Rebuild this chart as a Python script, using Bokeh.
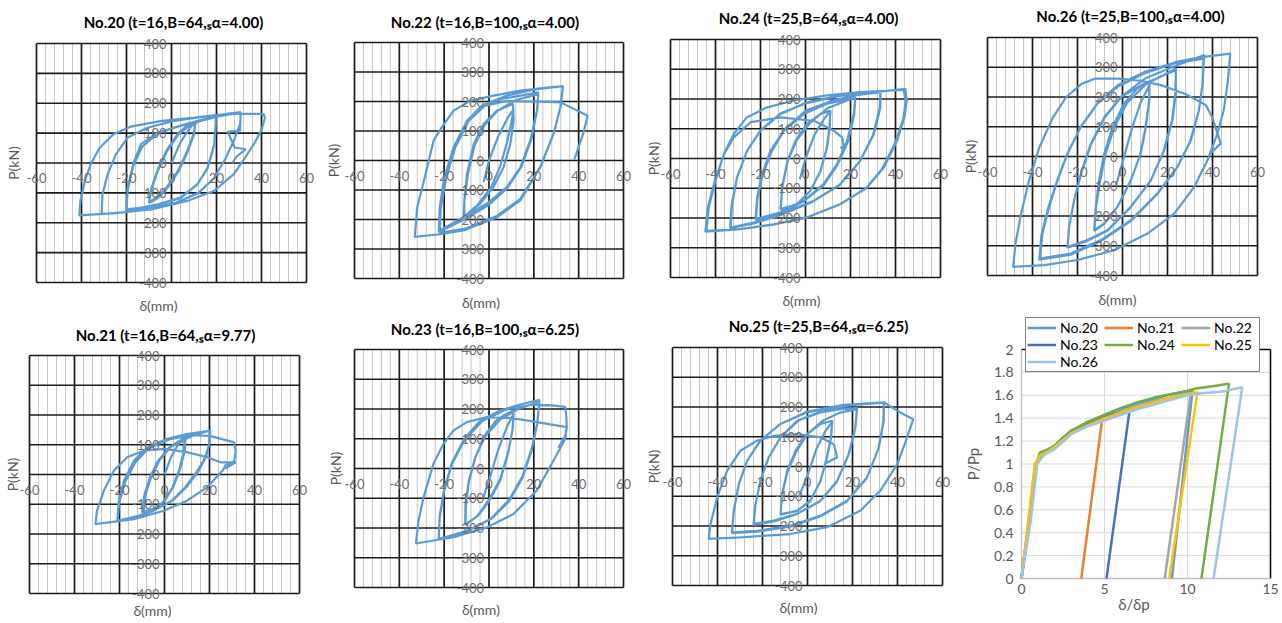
import math
from bokeh.plotting import figure
from bokeh.models import Label, Range1d, Legend, LegendItem
from bokeh.layouts import row, column
from bokeh.embed import file_html
from bokeh.resources import INLINE

# ---------------- data ----------------
X_TICKS = [-60, -40, -20, 0, 20, 40, 60]
Y_TICKS = [-400, -300, -200, -100, 0, 100, 200, 300, 400]
MINOR_X = [v for v in range(-60, 61, 4) if v % 20 != 0]

T20 = "No.20 (t=16,B=64,\u209b\u03b1=4.00)"
T22 = "No.22 (t=16,B=100,\u209b\u03b1=4.00)"
T24 = "No.24 (t=25,B=64,\u209b\u03b1=4.00)"
T26 = "No.26 (t=25,B=100,\u209b\u03b1=4.00)"
T21 = "No.21 (t=16,B=64,\u209b\u03b1=9.77)"
T23 = "No.23 (t=16,B=100,\u209b\u03b1=6.25)"
T25 = "No.25 (t=25,B=64,\u209b\u03b1=6.25)"

# (delta mm, P kN) hysteresis paths
N20 = [(0,0),(4,70),(8,115),(10.5,137),
       (10,100),(7,40),(3,-25),(-2,-80),(-6,-112),(-10,-132),
       (-9,-85),(-6,-20),(-2,45),(3,100),(7,125),(10.7,139),
       (10,95),(7,35),(3,-30),(-2,-85),(-6,-117),(-10,-134),
       (-9,-90),(-6,-25),(-2,40),(3,95),(8,125),(14,145),(19.7,156),
       (19.5,118),(19,63),(16,-16),(11.5,-71),(4,-116),(-6,-138),(-14,-150),(-20,-155),
       (-19.5,-83),(-17,-4),(-13.6,63),(-6.2,102),(4,124),(13,141),(19.7,154),
       (19.6,115),(19,60),(16,-18),(11.5,-72),(4,-118),(-6,-140),(-20,-157),
       (-19.5,-90),(-17,-10),(-13,55),(-6,100),(4,125),(15,148),(24,160),(30.8,169),
       (30.5,130),(28,80),(24,15),(19,-50),(12,-100),(2,-133),(-12,-155),(-22,-165),(-31,-171),
       (-30.7,-105),(-28.4,-38),(-24.7,29),(-19.5,85),(-10.7,118),(1,141),(16,157),(30,165),(41,164),
       (41.5,150),(40,110),(36.6,63),(32,10),(27.7,-37),(19,-93),(7,-127),(-9,-155),(-25,-168),(-41,-175),
       (-40.5,-128),(-38.5,-60),(-36,-5),(-32,50),(-26,95),(-18,122),(-5,140),(10,152),(22,162),(30.7,170),
       (30.5,108),(25,105),(28,52),(33,46),(29,22),(27,0)]

N22 = [(-2.4,-73),(0,0),(4,80),(8,140),(11,175),
       (10,130),(8,60),(5,-20),(1,-90),(-5,-150),(-11,-190),
       (-11,-135),(-9.8,-45),(-6.8,56),(-2.4,124),(3.6,169),(10.7,192),
       (11,135),(9.5,56),(6.5,-23),(2,-90),(-3.9,-146),(-11.3,-192),
       (-11,-140),(-9.5,-50),(-6.5,50),(-2,120),(4,170),(12,205),(22,225),
       (21.4,169),(18.4,68),(14,-23),(8,-90),(-0.9,-146),(-11.3,-192),(-22,-237),
       (-21.7,-158),(-19.5,-56),(-15.8,45),(-9.8,135),(-3.9,180),(5,208),(14,220),(22,231),
       (21.6,175),(19,75),(14.5,-20),(8,-95),(0,-150),(-11,-200),(-22.4,-242),
       (-22,-160),(-20,-60),(-16,40),(-10,130),(-2,190),(8,220),(20,240),(33,252),
       (31.8,180),(28.8,90),(22.9,-23),(14,-135),(3.6,-192),(-11.3,-237),(-22,-250),(-33.1,-259),
       (-32,-158),(-29,-68),(-24.7,68),(-21,113),(-15.8,169),(-8.3,203),(2,220),(14,237),(28.8,250),(33,250),
       (32,185),(29,95),(23,-20),(14,-130),(3,-190),(-11,-232),(-22,-245),
       (-21.5,-160),(-19,-55),(-15,45),(-9,135),(-2,185),(8,202),(20,200),(32,197),(44,152),(42,90),(38,2)]

N24 = [(-2.5,-70),(0,0),(4,80),(8,130),(11,160),
       (10.8,105),(9.6,37),(6.7,-41),(2.2,-108),(-3.7,-153),(-11.1,-170),
       (-10.4,-97),(-8,-7),(-4.4,60),(0.7,116),(6.7,150),(11.1,161),
       (10.6,100),(9.3,30),(6.5,-45),(2,-110),(-4,-155),(-11,-172),
       (-10.4,-100),(-8,-10),(-4,60),(2,120),(10,170),(22.2,206),
       (21.5,150),(18.5,60),(14,-19),(8,-86),(-0.7,-142),(-11,-181),(-22.2,-204),
       (-21.5,-131),(-19.3,-52),(-15.6,26),(-9.6,94),(-0.7,150),(9.6,184),(22.2,204),
       (21.6,145),(18.8,55),(14,-25),(8,-90),(-1,-145),(-11,-185),(-22,-207),
       (-21.4,-135),(-19,-55),(-15,25),(-9,100),(0,160),(12,195),(22,212),(33.3,223),
       (33.3,172),(30.4,82),(24.4,-7),(15.6,-86),(3.7,-142),(-11,-187),(-23,-215),(-33.3,-232),
       (-32.6,-153),(-30.4,-63),(-26,26),(-20,94),(-11,150),(0.7,189),(15.6,212),(33.3,223),
       (33,170),(30,78),(24,-12),(15,-90),(3,-146),(-11,-190),(-23,-218),(-33.5,-234),
       (-32.8,-155),(-30.5,-65),(-26,25),(-20,95),(-11,152),(0,185),(15,210),(30,222),(44.4,234),
       (45,195),(44,139),(40.7,60),(34.8,-30),(27.4,-97),(15.6,-153),(0.7,-198),(-14,-221),(-29,-237),(-44,-243),
       (-43,-164),(-40,-75),(-36.3,15),(-31.9,82),(-26,139),(-17,172),(-5.2,195),(9.6,212),(24.4,223),(43.7,231),
       (44.5,190),(43.5,135),(40,55),(34,-35),(27,-100),(15,-155),(0,-200),(-15,-223),(-30,-238),(-44.5,-246),
       (-43.5,-168),(-40.5,-80),(-36.5,10),(-32,70),(-24.4,122),(-11,138),(4,126),(12.6,93),(16.3,71),(17,40),(15.5,35)]

N26 = [(-3,-100),(0,-20),(4,90),(8,180),(12,240),
       (11.9,189),(10.4,100),(8.1,10),(3.7,-80),(-2.2,-169),(-8.1,-225),(-12.6,-248),
       (-11.9,-169),(-10.4,-80),(-8.1,10),(-4.4,100),(0.7,178),(6.7,229),(11.9,251),
       (11.8,185),(10.2,95),(7.8,5),(3.5,-85),(-2.5,-172),(-8.3,-228),(-12.5,-250),
       (-11.8,-172),(-10,-85),(-7.5,10),(-3.5,100),(2,180),(10,240),(17,270),(23.7,290),
       (23.7,212),(22.2,122),(18.5,21),(12.6,-80),(3.7,-169),(-6.7,-248),(-15.6,-281),(-24.4,-304),
       (-23.7,-236),(-21.5,-147),(-18.5,-57),(-14,44),(-8,133),(-0.7,200),(9.6,245),(17,268),(23.7,296),
       (23.5,215),(22,120),(18.3,18),(12.4,-83),(3.5,-172),(-6.8,-250),(-15.7,-284),(-24.5,-307),
       (-23.8,-240),(-21.6,-150),(-18.5,-60),(-14,40),(-8,130),(0,205),(10,262),(22,300),(36.3,341),
       (35.6,245),(34,156),(30.4,55),(24.4,-35),(15.6,-124),(3.7,-214),(-9.6,-281),(-23,-326),(-36.7,-343),
       (-35.6,-259),(-32.6,-169),(-28.9,-80),(-24.4,10),(-18.5,100),(-11.1,178),(-2.2,234),(9.6,279),(23,313),(36,329),
       (35.5,240),(33.8,150),(30,50),(24,-40),(15.3,-128),(3.5,-218),(-9.8,-285),(-23,-330),(-37,-347),
       (-36,-262),(-33,-172),(-29,-80),(-24.5,10),(-18.5,100),(-11,180),(-2,240),(10,285),(25,320),(36,335),(47.9,346),
       (46.7,245),(45,156),(42.2,77),(37.8,-12),(31.9,-102),(23,-192),(11.1,-259),(-3.7,-315),(-20,-348),(-34.8,-365),(-48.6,-371),
       (-47.5,-290),(-45,-190),(-41.5,-80),(-37,30),(-31,130),(-25,200),(-18,245),(-12,262),(-2,262),(8,255),(17,240),
       (28,210),(37,173),(40,130),(42.2,77),(43.7,44),(39,10)]

N21 = [(0,0),(3,60),(6,100),(9.3,122),
       (9,80),(7,20),(4,-40),(0,-90),(-5,-115),(-9.2,-125),
       (-8.5,-70),(-6,-10),(-2,50),(3,95),(9,125),
       (8.5,75),(6.5,15),(3.5,-45),(-1,-95),(-5,-118),(-10,-128),
       (-9,-70),(-6.5,-10),(-3,45),(2,90),(8,115),(14,135),(20.4,148),
       (20,110),(18.5,60),(15,10),(10,-40),(4,-85),(-4,-118),(-12,-140),(-21,-156),
       (-20.3,-88),(-18,-21),(-13.6,46),(-7.7,91),(1.2,120),(10,136),(20.4,148),
       (20,105),(18,55),(14,5),(9,-45),(3,-90),(-5,-122),(-13,-145),(-21,-158),
       (-20,-90),(-17.5,-25),(-13,40),(-7,88),(2,118),(12,132),(20,130),(26,118),(31,108),(31.6,80),(31,45),(27,30),
       (26,15),(19,-43),(10,-88),(-0.3,-122),(-13.6,-150),(-30.7,-167),
       (-30,-122),(-27,-55),(-22.5,13),(-16.6,58),(-9.2,80),(-0.3,86),(10,75),(19,58),(24.9,41),(29.3,41),(31.6,41),(27,20)]

N23 = [(-2.5,-97),(0,-40),(4,60),(8,140),(11,185),
       (10.5,130),(8.5,50),(5,-40),(0,-110),(-5,-160),(-10.6,-187),
       (-10.5,-120),(-9,-40),(-6,40),(-2,110),(3,160),(7,180),(11,196),
       (10.6,135),(8.6,55),(5,-35),(0,-105),(-5,-158),(-10.5,-190),
       (-10.3,-125),(-9,-45),(-6,40),(-1.5,110),(5,165),(13,200),(22.5,225),
       (21.5,150),(19,60),(15,-30),(9,-110),(1,-170),(-10,-210),(-22.5,-237),
       (-22,-160),(-20,-70),(-16.5,20),(-11,100),(-4,160),(5,195),(14,215),(22.5,231),
       (21.6,155),(19,65),(15,-25),(9,-105),(1,-168),(-10,-212),(-22.5,-240),
       (-22,-165),(-20,-75),(-16.5,15),(-11,95),(-3,160),(8,200),(20,215),(28,212),(34,207),
       (34.5,175),(34.7,139),(34,100),(31.5,65),(28.8,27),(21.3,-74),(10.9,-153),(-1,-198),(-15.8,-231),(-32.6,-252),
       (-31.4,-175),(-29.2,-97),(-24.8,16),(-20.3,83),(-15.8,128),(-9.9,156),(-1,173),(10,170),(22,155),(34.7,139),
       (34,110),(31,70)]

N25 = [(-3.9,-103),(0,-30),(4,60),(8,120),(11,150),
       (10.5,98),(8.7,31),(5.8,-48),(1.3,-115),(-4.6,-148),(-12,-162),
       (-11.3,-92),(-9,-14),(-5.3,53),(-0.1,109),(5.8,143),(11,154),
       (10.4,95),(8.5,28),(5.6,-52),(1,-118),(-4.8,-150),(-12,-160),
       (-11.3,-95),(-9,-20),(-5,50),(0,110),(7,155),(14,180),(22,193),
       (21.3,131),(18.4,42),(13.2,-48),(5.8,-115),(-4.6,-159),(-15,-182),(-23.9,-193),
       (-23.1,-126),(-20.9,-48),(-17.2,31),(-12,98),(-4.6,154),(5.8,182),(14.7,193),(22,196),
       (21.2,128),(18.2,40),(13,-52),(5.5,-118),(-4.8,-160),(-15,-185),(-24,-196),
       (-23.2,-130),(-21,-50),(-17.3,30),(-12,98),(-4,155),(6,185),(18,205),(33.9,215),
       (33.9,154),(31.7,64),(26.5,-36),(17.6,-115),(5.8,-165),(-7.6,-199),(-22.4,-216),(-33.5,-221),
       (-32.7,-148),(-30.5,-59),(-26.8,20),(-20.9,87),(-12,143),(-0.1,182),(14.7,204),(33.9,215),
       (33.7,150),(31.5,60),(26.3,-40),(17.4,-118),(5.6,-168),(-7.7,-202),(-22.5,-219),(-33.6,-224),
       (-32.8,-150),(-30.6,-60),(-26.8,20),(-21,87),(-12,143),(0,185),(15,206),(34,216),(39.9,187),(47,159),
       (44.3,98),(39.9,8),(32.4,-81),(23.6,-148),(8.7,-204),(-7.6,-227),(-29.8,-238),(-43.9,-243),
       (-43.1,-193),(-40.1,-103),(-35.7,-14),(-29.8,53),(-22.4,87),(-15,103),(-4.6,109),(5.8,98),(11.7,75),(13.2,31),(8,10)]

# normalized skeleton curves (delta/delta_p, P/Pp)
S_NAMES = ["No.20", "No.21", "No.22", "No.23", "No.24", "No.25", "No.26"]
S20 = [(0,0),(0.45,0.5),(0.85,1.0),(1.15,1.08),(1.6,1.12),(2.0,1.16),(2.5,1.23),(3,1.29),(4,1.36),(5,1.42),
       (6,1.48),(7,1.53),(8,1.57),(9,1.61),(10.3,1.64),(9.06,0)]
S21 = [(0,0),(0.45,0.5),(0.9,1.0),(1.2,1.07),(1.6,1.11),(2.0,1.15),(2.5,1.22),(3,1.28),(4,1.34),(4.85,1.38),(3.6,0)]
S22 = [(0,0),(0.45,0.5),(0.9,1.0),(1.2,1.07),(1.6,1.11),(2,1.15),(3,1.28),(4,1.35),(5,1.40),(6,1.46),(7,1.51),
       (8,1.55),(9,1.58),(10.2,1.62),(8.63,0)]
S23 = [(0,0),(0.45,0.5),(0.85,1.0),(1.2,1.08),(1.6,1.12),(2,1.16),(3,1.29),(4,1.36),(5,1.41),(6,1.45),(6.5,1.46),(5.12,0)]
S24 = [(0,0),(0.5,0.5),(0.9,1.0),(1.1,1.1),(1.6,1.13),(2,1.16),(3,1.29),(4,1.37),(5,1.43),(6,1.49),(7,1.54),
       (8,1.58),(9,1.61),(10,1.64),(10.5,1.66),(11.5,1.68),(12.5,1.70),(10.84,0)]
S25 = [(0,0),(0.4,0.5),(0.8,1.0),(1.15,1.08),(1.6,1.11),(2,1.15),(3,1.27),(4,1.34),(5,1.40),(6,1.45),(7,1.50),
       (8,1.54),(9,1.58),(10.6,1.63),(8.9,0)]
S26 = [(0,0),(0.55,0.5),(0.95,1.0),(1.3,1.07),(1.6,1.10),(2,1.13),(3,1.26),(4,1.33),(5,1.38),(6,1.43),(7,1.48),
       (8,1.52),(9,1.56),(10,1.60),(11,1.62),(12,1.63),(13.3,1.67),(11.57,0)]
S_COLORS = ["#5B9BD5", "#ED7D31", "#A5A5A5", "#4472C4", "#70AD47", "#FFC000", "#9DC3E6"]
LX_TICKS = [0, 5, 10, 15]
LY_TICKS = [0, 0.2, 0.4, 0.6, 0.8, 1.0, 1.2, 1.4, 1.6, 1.8, 2.0]
LY_LABELS = ["0", "0.2", "0.4", "0.6", "0.8", "1", "1.2", "1.4", "1.6", "1.8", "2"]

# ---------------- styling / layout ----------------
CURVE = "#5B9BD5"
TICK_C = "#6e6e6e"
AX_C = "#595959"
FONT = "Lato"
GRID_DARK = "#1a1a1a"


def hyst(title, pts, geo, tdx, tdy, xdx, xdy, ydx):
    L, T, W, H, R, B = geo
    xlo, xhi = X_TICKS[0], X_TICKS[-1]
    ylo, yhi = Y_TICKS[0], Y_TICKS[-1]
    kx = W / (xhi - xlo)
    ky = H / (yhi - ylo)
    p = figure(width=L + W + R, height=T + H + B,
               x_range=Range1d(xlo - L / kx, xhi + R / kx),
               y_range=Range1d(ylo - B / ky, yhi + T / ky),
               x_axis_location=None, y_axis_location=None, output_backend="svg",
               toolbar_location=None, min_border=0, outline_line_color=None)
    p.grid.visible = False
    nm = len(MINOR_X)
    p.segment(x0=MINOR_X, y0=[ylo] * nm, x1=MINOR_X, y1=[yhi] * nm,
              line_color="#c6c6c6", line_width=1)
    nx = len(X_TICKS)
    p.segment(x0=X_TICKS, y0=[ylo] * nx, x1=X_TICKS, y1=[yhi] * nx,
              line_color=GRID_DARK, line_width=1.7)
    ny = len(Y_TICKS)
    p.segment(x0=[xlo] * ny, y0=Y_TICKS, x1=[xhi] * ny, y1=Y_TICKS,
              line_color=GRID_DARK, line_width=1.7)
    for v in X_TICKS:
        p.add_layout(Label(x=v, y=0, text=str(v), text_align="center", text_baseline="middle",
                           y_offset=-15, text_font=FONT, text_font_size="13px", text_color=TICK_C))
    for v in Y_TICKS:
        p.add_layout(Label(x=0, y=v, text=str(v), text_align="right", text_baseline="middle",
                           x_offset=-5, text_font=FONT, text_font_size="13px", text_color=TICK_C))
    p.line([a for a, b in pts], [b for a, b in pts], line_color=CURVE, line_width=2.2)
    p.add_layout(Label(x=0, y=yhi, text=title, text_align="center", text_baseline="middle",
                       x_offset=tdx, y_offset=tdy, text_font=FONT, text_font_style="bold",
                       text_font_size="15px", text_color="black"))
    p.add_layout(Label(x=0, y=ylo, text="\u03b4(mm)", text_align="center", text_baseline="middle",
                       x_offset=xdx, y_offset=-xdy, text_font=FONT, text_font_size="14px", text_color=AX_C))
    p.add_layout(Label(x=xlo, y=0, text="P(kN)", text_align="center", text_baseline="middle",
                       angle=math.pi / 2, x_offset=-ydx, text_font=FONT, text_font_size="14px",
                       text_color=AX_C))
    return p


# geometry: (left, top, frame width, frame height, right, bottom) in px
f20 = hyst(T20, N20, (36, 43, 270, 239, 10, 32), 2, 22, -13, 23, 23)
f22 = hyst(T22, N22, (38, 42, 269, 236, 11, 36), -4, 21, -8, 24, 21)
f24 = hyst(T24, N24, (36, 39, 270, 238, 10, 37), 3, 22, -4, 23, 17)
f26 = hyst(T26, N26, (37, 37, 270, 238, 23, 39), 8, 22, -5, 24, 17)
f21 = hyst(T21, N21, (29, 41, 270, 238, 15, 29), 1, 21, -12, 17, 17)
f23 = hyst(T23, N23, (40, 35, 269, 238, 11, 35), -4, 21, -8, 22, 19)
f25 = hyst(T25, N25, (38, 33, 270, 238, 10, 37), 11, 22, -9, 22, 19)

# normalized panel
QL, QT, QW, QH, QR, QB = 69, 35, 249, 229, 10, 44
lx0, lx1 = LX_TICKS[0], LX_TICKS[-1]
ly0, ly1 = LY_TICKS[0], LY_TICKS[-1]
kx = QW / (lx1 - lx0)
ky = QH / (ly1 - ly0)
q = figure(width=QL + QW + QR, height=QT + QH + QB,
           x_range=Range1d(lx0 - QL / kx, lx1 + QR / kx),
           y_range=Range1d(ly0 - QB / ky, ly1 + QT / ky),
           x_axis_location=None, y_axis_location=None, output_backend="svg",
           toolbar_location=None, min_border=0, outline_line_color=None)
q.grid.visible = False
inner_y = LY_TICKS[1:-1]
q.segment(x0=[lx0] * len(inner_y), y0=inner_y, x1=[lx1] * len(inner_y), y1=inner_y,
          line_color="#d9d9d9", line_width=1)
inner_x = LX_TICKS[1:-1]
q.segment(x0=inner_x, y0=[ly0] * len(inner_x), x1=inner_x, y1=[ly1] * len(inner_x),
          line_color="#d9d9d9", line_width=1)
q.segment(x0=[lx0, lx1], y0=[ly1, ly0], x1=[lx1, lx1], y1=[ly1, ly1], line_color="black", line_width=1.5)
q.segment(x0=[lx0, lx0], y0=[ly0, ly0], x1=[lx1, lx0], y1=[ly0, ly1], line_color="#bfbfbf", line_width=1.3)

items = []
for name, pts, col in zip(S_NAMES, [S20, S21, S22, S23, S24, S25, S26], S_COLORS):
    r = q.line([a for a, b in pts], [b for a, b in pts], line_color=col, line_width=2.5)
    items.append(LegendItem(label=name, renderers=[r]))

for v in LX_TICKS:
    q.add_layout(Label(x=v, y=ly0, text=str(v), text_align="center", text_baseline="middle",
                       y_offset=-10, text_font=FONT, text_font_size="14px", text_color=AX_C))
for v, s in zip(LY_TICKS, LY_LABELS):
    q.add_layout(Label(x=lx0, y=v, text=s, text_align="right", text_baseline="middle",
                       x_offset=-8, text_font=FONT, text_font_size="14px", text_color=AX_C))
q.add_layout(Label(x=lx0, y=(ly0 + ly1) / 2, text="P/Pp", text_align="center", text_baseline="middle",
                   angle=math.pi / 2, x_offset=-49, text_font=FONT, text_font_size="15px", text_color=AX_C))
q.add_layout(Label(x=(lx0 + lx1) / 2, y=ly0, text="\u03b4/\u03b4p", text_align="center",
                   text_baseline="middle", x_offset=-12, y_offset=-25, text_font=FONT,
                   text_font_size="15px", text_color=AX_C))

leg = Legend(items=items, location=(73, 250), orientation="horizontal", ncols=3,
             border_line_color="black", border_line_width=1.5, background_fill_alpha=1,
             padding=1, margin=0, spacing=0, glyph_width=29, glyph_height=17, label_height=17,
             label_width=44, label_standoff=4, label_text_font=FONT, label_text_font_size="14px",
             label_text_color="black")
q.add_layout(leg)

layout = column(row(f20, f22, f24, f26), row(f21, f23, f25, q))
open("out.html", "w").write(file_html(layout, INLINE))
